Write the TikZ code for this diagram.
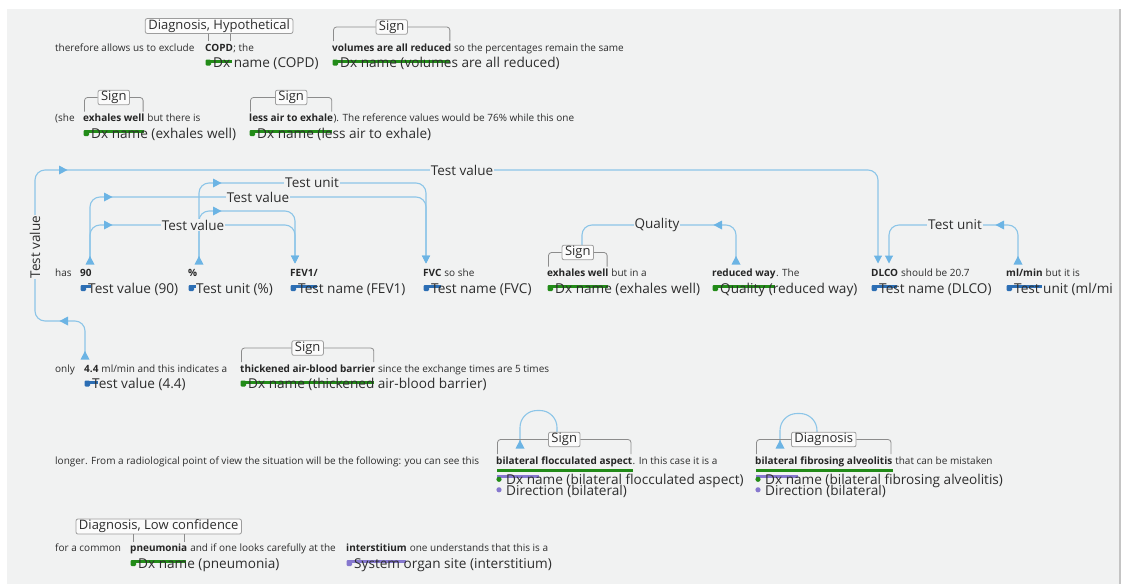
\documentclass[tikz,border=0pt]{standalone}
\usepackage{fontspec}
\setmainfont{Open Sans}
\usetikzlibrary{arrows.meta,calc}

\definecolor{bgc}{RGB}{241,242,242}
\definecolor{linkc}{RGB}{140,197,232}
\definecolor{tipc}{RGB}{108,180,228}
\definecolor{grn}{RGB}{34,139,24}
\definecolor{blu}{RGB}{44,110,180}
\definecolor{pur}{RGB}{134,120,206}
\definecolor{brkc}{RGB}{140,140,140}
\definecolor{txt}{RGB}{45,45,45}
\definecolor{edgec}{RGB}{196,196,196}

\tikzset{
  ctx/.style={font=\fontsize{10}{12}\selectfont, text=txt, inner sep=0pt, anchor=base west},
  ctxb/.style={ctx, font=\fontsize{10}{12}\selectfont\bfseries, text=black!85},
  lab/.style={font=\fontsize{13.6}{15}\selectfont, text=txt, inner sep=0pt, anchor=base west},
  tagbox/.style={font=\fontsize{13}{15}\selectfont, text=txt, draw=brkc!85, fill=white!70!bgc,
    rounded corners=2pt, inner xsep=3pt, inner ysep=1pt, line width=0.8pt},
  rlab/.style={font=\fontsize{13.5}{15}\selectfont, text=txt, fill=bgc, inner xsep=1pt, inner ysep=0.5pt},
  link/.style={draw=linkc, line width=1.1pt, rounded corners=10pt},
  endtip/.style={-{Triangle[width=8pt,length=8pt,color=tipc]}},
  brk/.style={draw=brkc, line width=0.8pt, rounded corners=3pt},
  tipup/.pic={\fill[tipc] (0,-4.5) -- (4.5,4) -- (-4.5,4) -- cycle;},
  tipright/.pic={\fill[tipc] (4.5,0) -- (-4,-4.5) -- (-4,4.5) -- cycle;},
  tipleft/.pic={\fill[tipc] (-4.5,0) -- (4,-4.5) -- (4,4.5) -- cycle;},
}

% bold entity word followed by plain context text
\newcommand\wrd[5]{%
  \node[ctxb] (#1) at (#2,#3) {#4};
  \node[ctx] (#1r) at (#1.base east) {#5};}
% coloured marker bar, tab and entity label under a word
\newcommand\mrk[3]{%
  \draw[#2, line width=3pt] ([xshift=2pt,yshift=-10pt]#1.base west) -- ([xshift=-1pt,yshift=-10pt]#1.base east);
  \fill[#2, rounded corners=1.2pt] ([xshift=0.5pt,yshift=-8.5pt]#1.base west) rectangle ([xshift=6pt,yshift=-14.5pt]#1.base west);
  \node[lab] (#1l) at ([xshift=8pt,yshift=-16.5pt]#1.base west) {#3};}
% attribute tag with a bracket spanning the word
\newcommand\tgb[3]{%
  \node[tagbox] (#2) at ([yshift=24pt]#1.base) {#3};
  \draw[brk] ([xshift=1.5pt,yshift=10pt]#1.base west) |- (#2.west);
  \draw[brk] ([xshift=-1.5pt,yshift=10pt]#1.base east) |- (#2.east);}
% attribute tag wider than the word, joined by two ticks
\newcommand\tgt[3]{%
  \node[tagbox] (#2) at ([yshift=25pt]#1.base) {#3};
  \coordinate (#2a) at ([xshift=3pt,yshift=10pt]#1.base west);
  \coordinate (#2b) at ([xshift=-3pt,yshift=10pt]#1.base east);
  \draw[brk] (#2a) -- (#2a |- #2.south);
  \draw[brk] (#2b) -- (#2b |- #2.south);}

\begin{document}
\begin{tikzpicture}[x=1pt,y=-1pt]
\useasboundingbox (0,0) rectangle (1125,584);
\fill[white] (0,0) rectangle (1125,584);
\fill[bgc] (7,9) rectangle (1120,584);
\draw[edgec, line width=1.5pt] (1120,9) -- (1120,584);

\begin{scope}
\clip (7,9) rectangle (1119,584);

% ---- row 1
\node[ctx] (t1a) at (55,51) {therefore allows us to exclude};
\wrd{wcopd}{205}{51}{COPD}{; the}
\wrd{wvol}{332}{51}{volumes are all reduced}{\ so the percentages remain the same}
\mrk{wcopd}{grn}{Dx name (COPD)}
\mrk{wvol}{grn}{Dx name (volumes are all reduced)}

% ---- row 2
\node[ctx] (t2a) at (55,121.5) {(she};
\wrd{wexh}{83}{121.5}{exhales well}{\ but there is}
\wrd{wless}{249}{121.5}{less air to exhale}{). The reference values would be 76\% while this one}
\mrk{wexh}{grn}{Dx name (exhales well)}
\mrk{wless}{grn}{Dx name (less air to exhale)}

% ---- row 3
\node[ctx] (t3a) at (55,276.5) {has};
\node[ctxb] (w90) at (80,276.5) {90};
\node[ctxb] (wpct) at (188,276.5) {\%};
\node[ctxb] (wfev) at (290,276.5) {FEV1/};
\wrd{wfvc}{423}{276.5}{FVC}{\ so she}
\wrd{wexb}{547}{276.5}{exhales well}{\ but in a}
\wrd{wred}{712}{276.5}{reduced way}{. The}
\wrd{wdlco}{871}{276.5}{DLCO}{\ should be 20.7}
\wrd{wml}{1006}{276.5}{ml/min}{\ but it is}
\mrk{w90}{blu}{Test value (90)}
\mrk{wpct}{blu}{Test unit (\%)}
\mrk{wfev}{blu}{Test name (FEV1)}
\mrk{wfvc}{blu}{Test name (FVC)}
\mrk{wexb}{grn}{Dx name (exhales well)}
\mrk{wred}{grn}{Quality (reduced way)}
\mrk{wdlco}{blu}{Test name (DLCO)}
\mrk{wml}{blu}{Test unit (ml/mi}

% ---- row 4
\node[ctx] (t4a) at (55,372) {only};
\wrd{w44}{84}{372}{4.4}{\ ml/min and this indicates a}
\wrd{wthk}{240}{372}{thickened air-blood barrier}{\ since the exchange times are 5 times}
\mrk{w44}{blu}{Test value (4.4)}
\mrk{wthk}{grn}{Dx name (thickened air-blood barrier)}

% ---- row 5
\node[ctx] (t5a) at (55,464) {longer. From a radiological point of view the situation will be the following: you can see this};
\node[ctxb] (wbfa) at (496,464) {bilateral};
\node[ctxb] (wbfa2) at (wbfa.base east) {\ flocculated aspect};
\node[ctx] (wbfar) at (wbfa2.base east) {. In this case it is a};
\node[ctxb] (wbfb) at (755,464) {bilateral};
\node[ctxb] (wbfb2) at (wbfb.base east) {\ fibrosing alveolitis};
\node[ctx] (wbfbr) at (wbfb2.base east) {\ that can be mistaken};
\draw[grn, line width=3pt] ([xshift=1pt,yshift=-6.5pt]wbfa.base west) -- ([yshift=-6.5pt]wbfa2.base east);
\draw[pur, line width=3pt] ([xshift=1pt,yshift=-12pt]wbfa.base west) -- ([yshift=-12pt]wbfa.base east);
\fill[grn] ([xshift=3pt,yshift=-15.3pt]wbfa.base west) circle (2.6);
\fill[pur] ([xshift=3pt,yshift=-25.8pt]wbfa.base west) circle (2.6);
\node[lab] (lbfa1) at ([xshift=10pt,yshift=-20.5pt]wbfa.base west) {Dx name (bilateral flocculated aspect)};
\node[lab] (lbfa2) at ([xshift=10pt,yshift=-31.5pt]wbfa.base west) {Direction (bilateral)};
\draw[grn, line width=3pt] ([xshift=1pt,yshift=-6.5pt]wbfb.base west) -- ([yshift=-6.5pt]wbfb2.base east);
\draw[pur, line width=3pt] ([xshift=1pt,yshift=-12pt]wbfb.base west) -- ([yshift=-12pt]wbfb.base east);
\fill[grn] ([xshift=3pt,yshift=-15.3pt]wbfb.base west) circle (2.6);
\fill[pur] ([xshift=3pt,yshift=-25.8pt]wbfb.base west) circle (2.6);
\node[lab] (lbfb1) at ([xshift=10pt,yshift=-20.5pt]wbfb.base west) {Dx name (bilateral fibrosing alveolitis)};
\node[lab] (lbfb2) at ([xshift=10pt,yshift=-31.5pt]wbfb.base west) {Direction (bilateral)};

% ---- row 6
\node[ctx] (t6a) at (55,551.5) {for a common};
\wrd{wpne}{130}{551.5}{pneumonia}{\ and if one looks carefully at the}
\wrd{wint}{346}{551.5}{interstitium}{\ one understands that this is a}
\mrk{wpne}{grn}{Dx name (pneumonia)}
\mrk{wint}{pur}{System organ site (interstitium)}

% ---- relation routing levels and end points
\coordinate (h170) at (0,170);
\coordinate (h183) at (0,183);
\coordinate (h197) at (0,197);
\coordinate (h211) at (0,211);
\coordinate (h225) at (0,225);
\coordinate (h321) at (0,321);
\coordinate (x35) at (35,0);
\coordinate (s90) at (90,260.5);
\coordinate (spct) at (199,260.5);
\coordinate (dfev) at (295,263.5);
\coordinate (dfvc) at (426,263.5);
\coordinate (sred) at (736,260.5);
\coordinate (qend) at (582,250);
\coordinate (ddl1) at (878,263.5);
\coordinate (ddl2) at (889,263.5);
\coordinate (sml) at (1018,260.5);
\coordinate (s44) at (85,355.5);
\coordinate (sl1) at (520,444.5);
\coordinate (sl2) at (780,444.5);

% ---- relations
\draw[link,endtip] (s90) -- (s90|-h225) -- (dfev|-h225) -- (dfev);
\draw[link,endtip] (s90) -- (s90|-h197) -- (dfvc|-h197) -- (dfvc);
\draw[link,endtip] (spct) -- (spct|-h183) -- (dfvc|-h183) -- (dfvc);
\draw[link,endtip] (spct) -- (spct|-h211) -- (dfev|-h211) -- (dfev);
\draw[link,endtip] (s44) -- (s44|-h321) -- (x35|-h321) -- (x35|-h170) -- (ddl1|-h170) -- (ddl1);
\draw[link,endtip] (sml) -- (sml|-h225) -- (ddl2|-h225) -- (ddl2);
\draw[link] (sred) -- (sred|-h225) -- (qend|-h225) -- (qend);
\draw[link, rounded corners=17pt] (sl1) -- ++(0,-34) -- ++(37,0) -- ++(0,28);
\draw[link, rounded corners=17pt] (sl2) -- ++(0,-31) -- ++(37,0) -- ++(0,25);

\foreach \p in {s90,spct,sred,sml,s44,sl1,sl2} \pic at (\p) {tipup};
\pic at (108,225) {tipright};
\pic at (108,197) {tipright};
\pic at (217,183) {tipright};
\pic at (217,211) {tipright};
\pic at (63,170) {tipright};
\pic at (64,321) {tipleft};
\pic at (1000,225) {tipleft};
\pic at (718,225) {tipleft};

\node[rlab] (r1) at (193,225) {Test value};
\node[rlab] (r2) at (258,197) {Test value};
\node[rlab] (r3) at (312,183) {Test unit};
\node[rlab] (r5) at (462,170) {Test value};
\node[rlab, rotate=90] (r5v) at (35,247) {Test value};
\node[rlab] (r6) at (955,225) {Test unit};
\node[rlab] (r7) at (657,225) {Quality};

% ---- attribute tags
\tgt{wcopd}{tdh}{Diagnosis, Hypothetical}
\tgb{wvol}{ts1}{Sign}
\tgb{wexh}{ts2}{Sign}
\tgb{wless}{ts3}{Sign}
\tgb{wexb}{ts4}{Sign}
\tgb{wthk}{ts5}{Sign}
\node[tagbox] (ts6) at ([yshift=24.5pt]$(wbfa.base west)!0.5!(wbfa2.base east)$) {Sign};
\draw[brk] ([xshift=1.5pt,yshift=10pt]wbfa.base west) |- (ts6.west);
\draw[brk] ([xshift=-1.5pt,yshift=10pt]wbfa2.base east) |- (ts6.east);
\node[tagbox] (ts7) at ([yshift=24.5pt]$(wbfb.base west)!0.5!(wbfb2.base east)$) {Diagnosis};
\draw[brk] ([xshift=1.5pt,yshift=10pt]wbfb.base west) |- (ts7.west);
\draw[brk] ([xshift=-1.5pt,yshift=10pt]wbfb2.base east) |- (ts7.east);
\tgt{wpne}{tdl}{Diagnosis, Low confidence}
\end{scope}
\end{tikzpicture}
\end{document}
